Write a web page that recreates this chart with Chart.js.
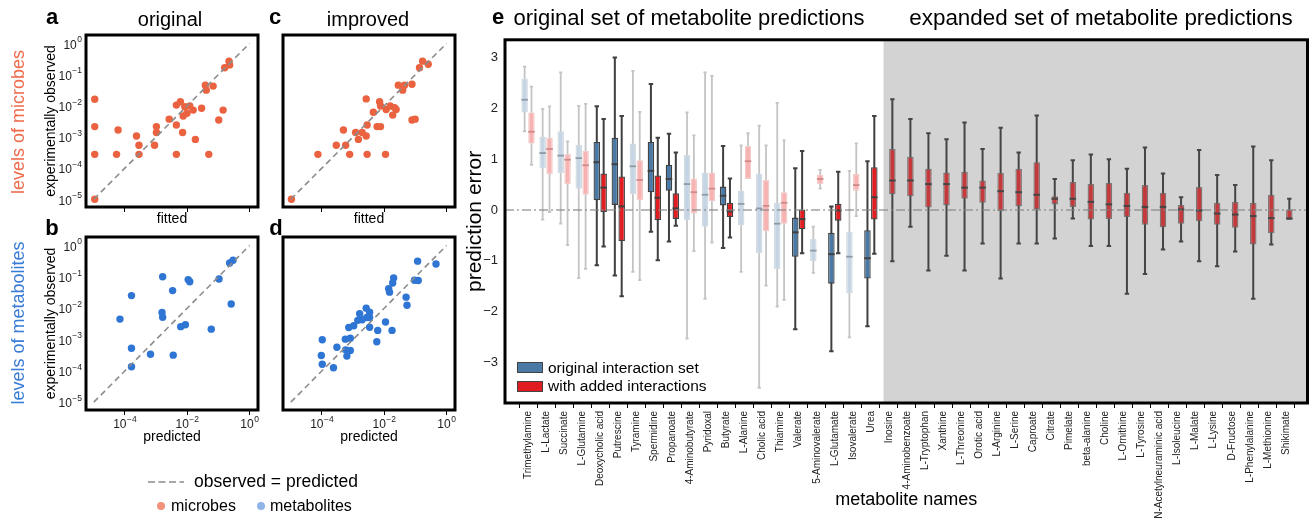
<!DOCTYPE html>
<html>
<head>
<meta charset="utf-8">
<script src="https://cdn.jsdelivr.net/npm/chart.js@4.4.1/dist/chart.umd.min.js"></script>
<style>
  body { margin: 0; background: #fff; width: 1309px; height: 518px; overflow: hidden; position: relative;
         font-family: 'Liberation Sans', Arial, sans-serif; }
  canvas { position: absolute; }
  .t { position: absolute; white-space: nowrap; line-height: 1; color: #000; transform: translate(-50%, -50%); }
  .rot { transform: translate(-50%, -50%) rotate(-90deg); }
  .letter { font-weight: bold; font-size: 22px; }
  .sw { position: absolute; box-sizing: border-box; }
</style>
</head>
<body>

<canvas id="panelA" width="222" height="205" style="left:40px;top:25px"></canvas>
<canvas id="panelB" width="222" height="225" style="left:40px;top:225px"></canvas>
<canvas id="panelC" width="189" height="205" style="left:270px;top:25px"></canvas>
<canvas id="panelD" width="189" height="225" style="left:270px;top:225px"></canvas>
<canvas id="panelE" width="854" height="493" style="left:455px;top:25px"></canvas>

<div class="t letter" style="left:52px;top:17px">a</div>
<div class="t letter" style="left:52px;top:228px">b</div>
<div class="t letter" style="left:275px;top:17px">c</div>
<div class="t letter" style="left:276px;top:228px">d</div>
<div class="t letter" style="left:498px;top:17px">e</div>

<div class="t" style="left:170px;top:19px;font-size:20px">original</div>
<div class="t" style="left:368px;top:19px;font-size:20px">improved</div>
<div class="t" style="left:689px;top:18px;font-size:22px">original set of metabolite predictions</div>
<div class="t" style="left:1101px;top:18px;font-size:22.4px">expanded set of metabolite predictions</div>

<div class="t rot" style="left:18px;top:122px;font-size:18px;color:#ee6c4d">levels of microbes</div>
<div class="t rot" style="left:18px;top:323px;font-size:18px;color:#3a7dd6">levels of metabolites</div>

<!-- legend inside panel e -->
<div class="sw" style="left:517px;top:362px;width:26px;height:11px;background:#4b79a6;border:1px solid #444"></div>
<div class="t" style="left:548px;top:368px;font-size:15.5px;transform:translate(0,-50%)">original interaction set</div>
<div class="sw" style="left:517px;top:381px;width:26px;height:11px;background:#e11d21;border:1px solid #444"></div>
<div class="t" style="left:548px;top:386px;font-size:15.5px;transform:translate(0,-50%)">with added interactions</div>

<!-- legend under the scatter panels -->
<svg style="position:absolute;left:146px;top:478px" width="40" height="8">
  <line x1="2" y1="4" x2="38" y2="4" stroke="#8c8c8c" stroke-width="1.6" stroke-dasharray="7,3.5"/>
</svg>
<div class="t" style="left:194px;top:482px;font-size:17.5px;transform:translate(0,-50%)">observed = predicted</div>
<div class="sw" style="left:157px;top:502px;width:8px;height:8px;border-radius:50%;background:#f0927c"></div>
<div class="t" style="left:171px;top:506px;font-size:16px;transform:translate(0,-50%)">microbes</div>
<div class="sw" style="left:257px;top:502px;width:8px;height:8px;border-radius:50%;background:#8fb4e8"></div>
<div class="t" style="left:270px;top:506px;font-size:16px;transform:translate(0,-50%)">metabolites</div>

<script>
// ---- scatter data (log10 values) ----
const diagonal = [-5, 0];
const logTicksY = [-5, -4, -3, -2, -1, 0];
const logTicksX = [-4, -2, 0];

// a: microbes, original model (fitted vs observed)
const microbesFittedOriginal = [-4.97, -4.97, -4.97, -4.97, -4.27, -4.22, -3.63, -3.55, -3.55, -3.05, -2.99, -2.99,
  -2.58, -2.35, -2.35, -2.35, -2.22, -2.15, -2.13, -2.08, -2.01, -1.92, -1.81, -1.74, -1.54, -1.42, -1.39, -1.31,
  -1.17, -0.99, -0.85, -0.80, -0.66, -0.64];
const microbesObservedOriginal = [-1.79, -2.67, -3.56, -5.0, -3.56, -2.78, -2.97, -3.27, -3.56, -3.27, -2.67, -2.86,
  -2.43, -2.62, -3.56, -1.98, -1.87, -2.86, -2.33, -2.03, -2.24, -2.01, -2.14, -3.08, -2.08, -1.34, -1.50, -3.56,
  -1.37, -2.46, -2.14, -0.78, -0.57, -0.69];

// c: microbes, improved model
const microbesFittedImproved = [-4.98, -4.13, -3.54, -3.31, -3.24, -3.11, -2.92, -2.83, -2.71, -2.58, -2.55, -2.55,
  -2.58, -2.35, -2.23, -2.12, -2.15, -2.12, -1.96, -1.94, -1.81, -1.73, -1.67, -1.62, -1.55, -1.41, -1.35, -1.11,
  -1.11, -1.01, -0.87, -0.77, -0.59];
const microbesObservedImproved = [-5.0, -3.56, -3.27, -2.78, -3.27, -3.56, -2.86, -3.08, -2.86, -2.97, -2.62, -3.56,
  -1.78, -2.21, -2.67, -2.67, -1.87, -2.01, -3.56, -2.12, -2.01, -2.30, -2.06, -2.12, -1.34, -1.50, -1.34, -1.31,
  -2.46, -2.43, -0.78, -0.57, -0.67];

// b: metabolites, original model (predicted vs observed)
const metabolitesPredictedOriginal = [-4.16, -3.79, -3.79, -3.79, -3.18, -2.79, -2.81, -2.79, -2.47, -2.45, -2.21,
  -2.06, -1.97, -1.92, -1.23, -0.98, -0.59, -0.64, -0.53];
const metabolitesObservedOriginal = [-2.35, -1.60, -3.28, -3.87, -3.47, -1.00, -2.14, -2.29, -1.44, -3.50, -2.59,
  -2.53, -1.09, -1.16, -2.67, -1.07, -1.87, -0.56, -0.47];

// d: metabolites, improved model
const metabolitesPredictedImproved = [-0.93, -0.34, -1.70, -1.73, -1.03, -0.91, -1.86, -1.83, -1.30, -1.27, -2.58,
  -2.47, -2.79, -2.56, -2.71, -2.85, -2.47, -2.98, -3.14, -2.47, -1.96, -2.21, -1.75, -3.99, -3.25, -3.09, -2.24,
  -3.52, -3.24, -3.09, -4.02, -3.20, -3.99, -3.63];
const metabolitesObservedImproved = [-0.50, -0.59, -1.04, -1.20, -1.11, -1.12, -1.38, -1.49, -1.65, -1.91, -2.00,
  -2.13, -2.18, -2.30, -2.37, -2.39, -2.30, -2.56, -2.62, -2.61, -2.44, -2.71, -2.71, -3.01, -2.99, -2.96, -3.07,
  -3.25, -3.33, -3.35, -3.51, -3.53, -3.79, -3.90];

// ---- box plot data (prediction error) ----
const originalNames = ['Trimethylamine', 'L-Lactate', 'Succinate', 'L-Glutamine', 'Deoxycholic acid', 'Putrescine',
  'Tyramine', 'Spermidine', 'Propanoate', '4-Aminobutyrate', 'Pyridoxal', 'Butyrate', 'L-Alanine', 'Cholic acid',
  'Thiamine', 'Valerate', '5-Aminovalerate', 'L-Glutamate', 'Isovalerate', 'Urea'];
const expandedNames = ['Inosine', '4-Aminobenzoate', 'L-Tryptophan', 'Xanthine', 'L-Threonine', 'Orotic acid',
  'L-Arginine', 'L-Serine', 'Caproate', 'Citrate', 'Pimelate', 'beta-alanine', 'Choline', 'L-Ornithine', 'L-Tyrosine',
  'N-Acetylneuraminic acid', 'L-Isoleucine', 'L-Malate', 'L-Lysine', 'D-Fructose', 'L-Phenylalanine', 'L-Methionine',
  'Shikimate'];
const metabolites = originalNames.concat(expandedNames);
// metabolites shown in full colour in the original set
const darkOriginal = ['Deoxycholic acid', 'Putrescine', 'Spermidine', 'Propanoate', 'Butyrate', 'Valerate',
  'L-Glutamate', 'Urea'];

// original interaction set (only the original metabolites)
const origLow  = [1.55, -0.19, -0.27, -1.34, -1.09, -1.29, -1.22, -0.43, -0.62, -2.53, -1.75, -0.75, -1.22, -3.50, -1.90, -2.35, -1.24, -2.78, -2.51, -2.29];
const origQ1   = [1.92, 0.82, 0.73, 0.42, 0.19, 0.10, 0.31, 0.35, 0.38, -0.20, -0.33, 0.09, -0.30, -0.85, -1.16, -0.92, -1.01, -1.45, -1.64, -1.35];
const origMed  = [2.17, 1.12, 1.07, 1.02, 0.94, 0.90, 0.86, 0.77, 0.61, 0.51, 0.30, 0.28, 0.12, 0.03, -0.27, -0.44, -0.80, -0.87, -0.92, -0.95];
const origQ3   = [2.59, 1.44, 1.55, 1.28, 1.34, 1.42, 1.31, 1.34, 0.89, 1.08, 0.74, 0.46, 0.38, 0.72, 0.14, -0.15, -0.57, -0.45, -0.43, -0.40];
const origHigh = [2.82, 1.99, 2.71, 2.05, 2.04, 3.00, 2.74, 2.48, 1.50, 1.92, 2.71, 1.26, 1.27, 1.66, 2.11, 0.82, -0.33, 0.07, 0.77, 0.96];

// with added interactions (all metabolites)
const addedLow  = [0.89, -0.04, -0.69, -1.16, -0.72, -1.70, -1.38, -0.99, -0.31, -0.81, -0.64, -0.54, 0.79, -1.49, -1.77, -0.85, 0.42, -0.85, -0.12, -0.86,
  -1.01, -0.33, -1.19, -0.90, -1.19, -0.66, -1.35, -0.66, -0.66, -0.56, -0.17, -0.71, -0.71, -1.65, -1.26, -0.78, -0.62, -1.01, -1.11, -0.82, -1.75, -0.68, -0.17];
const addedQ1   = [1.31, 0.71, 0.51, 0.30, -0.04, -0.61, 0.19, -0.20, -0.18, -0.07, 0.17, -0.14, 0.61, -0.42, -0.27, -0.38, 0.51, -0.21, 0.38, -0.19,
  0.31, 0.27, 0.05, 0.09, 0.22, 0.14, -0.02, 0.07, 0.01, 0.11, 0.06, -0.19, -0.18, -0.14, -0.29, -0.34, -0.27, -0.22, -0.29, -0.35, -0.68, -0.46, -0.17];
const addedMed  = [1.54, 1.20, 0.99, 0.88, 0.44, 0.07, 0.59, 0.24, 0.03, 0.35, 0.42, -0.03, 0.96, 0.08, 0.14, -0.18, 0.61, -0.01, 0.49, 0.25,
  0.58, 0.58, 0.51, 0.51, 0.44, 0.44, 0.37, 0.35, 0.30, 0.22, 0.22, 0.16, 0.11, 0.08, 0.06, 0.06, 0.01, -0.01, -0.07, -0.09, -0.12, -0.16, -0.17];
const addedQ3   = [1.92, 1.42, 1.10, 1.16, 0.72, 0.66, 0.98, 0.68, 0.33, 0.62, 0.74, 0.14, 1.26, 0.59, 0.35, 0.01, 0.70, 0.12, 0.71, 0.84,
  1.20, 1.05, 0.81, 0.74, 0.75, 0.58, 0.73, 0.81, 0.94, 0.27, 0.55, 0.51, 0.53, 0.34, 0.49, 0.34, 0.10, 0.45, 0.14, 0.16, 0.14, 0.30, 0.01];
const addedHigh = [2.43, 2.04, 1.35, 2.09, 1.79, 1.85, 1.93, 1.42, 1.13, 1.47, 2.64, 0.62, 1.51, 1.27, 1.37, 1.16, 0.79, 0.75, 1.31, 1.85,
  2.18, 1.79, 1.51, 1.39, 1.72, 1.20, 1.62, 1.13, 1.86, 0.61, 0.98, 1.09, 1.00, 0.81, 1.23, 0.72, 0.25, 1.18, 0.69, 0.49, 1.25, 0.98, 0.22];

const errorTicks = [-3, -2, -1, 0, 1, 2, 3];

const FONT = "'Liberation Sans', Arial, sans-serif";
Chart.defaults.font.family = FONT;
Chart.defaults.color = '#000';

// thick black frame round the plot area
const frame = {
  id: 'frame',
  afterDraw(chart) {
    const { ctx, chartArea: a } = chart;
    ctx.save();
    ctx.strokeStyle = '#000';
    ctx.lineWidth = 3;
    ctx.strokeRect(a.left, a.top, a.right - a.left, a.bottom - a.top);
    ctx.restore();
  }
};

// "10" with a raised exponent, like a mathtext tick label
function drawPower(ctx, v, px, py, align) {
  const exp = String(v).replace('-', '\u2212');
  ctx.font = '12px ' + FONT;
  const bw = ctx.measureText('10').width;
  ctx.font = '8.5px ' + FONT;
  const ew = ctx.measureText(exp).width;
  const total = bw + ew + 0.5;
  const left = align === 'right' ? px - total : px - total / 2;
  ctx.textAlign = 'left';
  ctx.textBaseline = 'middle';
  ctx.font = '12px ' + FONT;
  ctx.fillText('10', left, py);
  ctx.font = '8.5px ' + FONT;
  ctx.fillText(exp, left + bw + 0.5, py - 5.5);
}

const powerLabels = {
  id: 'powerLabels',
  afterDraw(chart, args, opts) {
    const { ctx, chartArea: a, scales: { x, y } } = chart;
    ctx.save();
    ctx.fillStyle = '#222';
    if (opts.y) logTicksY.forEach(v => drawPower(ctx, v, a.left - 4, y.getPixelForValue(v) + 2, 'right'));
    if (opts.x) logTicksX.forEach(v => drawPower(ctx, v, x.getPixelForValue(v), a.bottom + 15, 'center'));
    ctx.restore();
  }
};

function scatterPanel(id, xs, ys, color, opt) {
  return new Chart(document.getElementById(id), {
    type: 'scatter',
    data: {
      datasets: [
        {
          type: 'line',
          data: diagonal.map(v => ({ x: v, y: v })),
          borderColor: '#8c8c8c',
          borderDash: [6, 4],
          borderWidth: 1.6,
          pointRadius: 0
        },
        {
          data: xs.map((x, i) => ({ x: x, y: ys[i] })),
          backgroundColor: color,
          borderWidth: 0,
          pointRadius: 3.7
        }
      ]
    },
    options: {
      responsive: false,
      animation: false,
      devicePixelRatio: 1,
      layout: { padding: { left: 0, top: opt.top, right: 4, bottom: 0 } },
      plugins: {
        legend: { display: false },
        tooltip: { enabled: false },
        powerLabels: { x: opt.xLabels, y: opt.yLabels }
      },
      scales: {
        x: {
          type: 'linear', min: -5.25, max: 0.27,
          afterBuildTicks: s => { s.ticks = logTicksX.map(v => ({ value: v })); },
          afterFit: s => { s.height = opt.xh; },
          border: { display: false },
          grid: { drawOnChartArea: false, drawTicks: true, tickLength: 5, color: '#000' },
          ticks: { display: false },
          title: { display: true, text: opt.xTitle, font: { size: 14 }, padding: { top: 0, bottom: opt.xpad } }
        },
        y: {
          type: 'linear', min: -5.25, max: 0.27,
          afterBuildTicks: s => { s.ticks = logTicksY.map(v => ({ value: v })); },
          afterFit: s => { s.width = opt.yw; },
          border: { display: false },
          grid: { display: false, drawTicks: false },
          ticks: { display: false },
          title: { display: opt.yLabels, text: 'experimentally observed', font: { size: 14 }, padding: { top: 2.5, bottom: 0 } }
        }
      }
    },
    plugins: [frame, powerLabels]
  });
}

scatterPanel('panelA', microbesFittedOriginal, microbesObservedOriginal, '#ea623f',
  { top: 10, xh: 23, yw: 46, xLabels: false, yLabels: true, xTitle: 'fitted', xpad: 2.6 });
scatterPanel('panelC', microbesFittedImproved, microbesObservedImproved, '#ea623f',
  { top: 10, xh: 23, yw: 13, xLabels: false, yLabels: false, xTitle: 'fitted', xpad: 2.6 });
scatterPanel('panelB', metabolitesPredictedOriginal, metabolitesObservedOriginal, '#2f75d4',
  { top: 12, xh: 40, yw: 46, xLabels: true, yLabels: true, xTitle: 'predicted', xpad: 4.6 });
scatterPanel('panelD', metabolitesPredictedImproved, metabolitesObservedImproved, '#2f75d4',
  { top: 12, xh: 40, yw: 13, xLabels: true, yLabels: false, xTitle: 'predicted', xpad: 4.6 });

// ---- panel e: box plots ----
const boxSets = [
  { low: origLow, q1: origQ1, med: origMed, q3: origQ3, high: origHigh },
  { low: addedLow, q1: addedQ1, med: addedMed, q3: addedQ3, high: addedHigh }
];

function boxStyle(set, i) {
  const name = metabolites[i];
  if (i >= originalNames.length) {
    return { fill: '#c4393b', border: 'rgba(110,100,100,0.85)', line: '#454545', width: 2, cap: 2.2 };
  }
  const dark = darkOriginal.includes(name);
  if (set === 0) {
    return dark ? { fill: '#4b79a6', border: '#404040', line: '#404040', width: 2, cap: 2.2 }
                : { fill: '#c5d5e3', border: '#d3dbe2', line: '#c4c4c4', med: '#8e9aa5', width: 1.8, cap: 1.6 };
  }
  return dark ? { fill: '#e11d21', border: '#404040', line: '#404040', width: 2, cap: 2.2 }
              : { fill: '#f6b3b2', border: '#f3cbca', line: '#c4c4c4', med: '#d08a89', width: 1.8, cap: 1.6 };
}

const boxParts = {
  id: 'boxParts',
  beforeDatasetsDraw(chart) {
    const { ctx, chartArea: a, scales: { x, y } } = chart;
    ctx.save();
    // grey background behind the expanded set
    const sx = x.getPixelForValue(originalNames.length - 0.3);
    ctx.fillStyle = '#d3d3d3';
    ctx.fillRect(sx, a.top, a.right - sx, a.bottom - a.top);
    // whiskers with caps
    boxSets.forEach((set, di) => {
      chart.getDatasetMeta(di).data.forEach((bar, i) => {
        const st = boxStyle(di, i);
        const top = y.getPixelForValue(set.high[i]);
        const bot = y.getPixelForValue(set.low[i]);
        ctx.strokeStyle = st.line;
        ctx.lineWidth = st.width;
        ctx.beginPath();
        ctx.moveTo(bar.x, top); ctx.lineTo(bar.x, bot);
        ctx.moveTo(bar.x - st.cap, top); ctx.lineTo(bar.x + st.cap, top);
        ctx.moveTo(bar.x - st.cap, bot); ctx.lineTo(bar.x + st.cap, bot);
        ctx.stroke();
      });
    });
    ctx.restore();
  },
  afterDatasetsDraw(chart) {
    const { ctx, chartArea: a, scales: { x, y } } = chart;
    ctx.save();
    boxSets.forEach((set, di) => {
      chart.getDatasetMeta(di).data.forEach((bar, i) => {
        const st = boxStyle(di, i);
        const my = y.getPixelForValue(set.med[i]);
        ctx.strokeStyle = st.med || st.line;
        ctx.lineWidth = st.width;
        ctx.beginPath();
        ctx.moveTo(bar.x - bar.width / 2, my);
        ctx.lineTo(bar.x + bar.width / 2, my);
        ctx.stroke();
      });
    });
    // dash-dot zero line
    const zy = y.getPixelForValue(0);
    ctx.strokeStyle = 'rgba(130,130,130,0.75)';
    ctx.lineWidth = 1.4;
    ctx.setLineDash([9, 3, 2, 3]);
    ctx.beginPath();
    ctx.moveTo(a.left, zy);
    ctx.lineTo(a.right, zy);
    ctx.stroke();
    ctx.restore();
  }
};

new Chart(document.getElementById('panelE'), {
  type: 'bar',
  data: {
    datasets: boxSets.map((set, di) => ({
      label: di === 0 ? 'original interaction set' : 'with added interactions',
      data: set.q1.map((q1, i) => ({ x: i, y: [q1, set.q3[i]] })),
      backgroundColor: c => boxStyle(di, c.dataIndex).fill,
      borderColor: c => boxStyle(di, c.dataIndex).border,
      borderWidth: 1.3,
      borderSkipped: false,
      categoryPercentage: 0.76,
      barPercentage: 0.95
    }))
  },
  options: {
    responsive: false,
    animation: false,
    devicePixelRatio: 1,
    layout: { padding: { left: 0, top: 11, right: 1.5, bottom: 0 } },
    plugins: { legend: { display: false }, tooltip: { enabled: false } },
    scales: {
      x: {
        type: 'linear', min: -0.76, max: 42.68,
        afterBuildTicks: s => { s.ticks = metabolites.map((m, i) => ({ value: i })); },
        afterFit: s => { s.height = 115; },
        border: { display: false },
        grid: { drawOnChartArea: false, drawTicks: true, tickLength: 5, color: '#000' },
        ticks: { autoSkip: false, minRotation: 90, maxRotation: 90, font: { size: 10 }, color: '#222', padding: 3,
                 callback: v => metabolites[v] },
        title: { display: true, text: 'metabolite names', font: { size: 18 }, padding: { top: 0, bottom: 7 } }
      },
      y: {
        type: 'linear', min: -3.80, max: 3.35, stacked: false,
        afterBuildTicks: s => { s.ticks = errorTicks.map(v => ({ value: v })); },
        afterFit: s => { s.width = 50; },
        border: { display: false },
        grid: { display: false, drawTicks: false },
        ticks: { font: { size: 13 }, color: '#222', padding: 7,
                 callback: v => v < 0 ? '\u2212' + Math.abs(v) : String(v) },
        title: { display: true, text: 'prediction error', font: { size: 21 }, padding: { top: 7.4, bottom: 0 } }
      }
    }
  },
  plugins: [boxParts, frame]
});
</script>
</body>
</html>
